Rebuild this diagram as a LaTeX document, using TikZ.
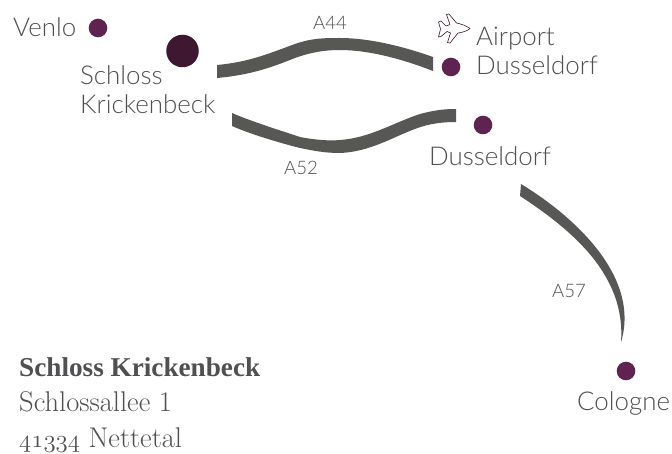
\documentclass[tikz,border=0pt]{standalone}
\usepackage{fontspec}
\setsansfont{Lato Light}[BoldFont={Lato}]
\newfontfamily\titlefont{Liberation Serif}
\newcommand{\oldnums}[1]{{\fontencoding{OML}\fontfamily{lmm}\fontseries{m}\fontshape{it}\selectfont #1}}
\definecolor{txt}{HTML}{505052}
\definecolor{road}{HTML}{575756}
\definecolor{dotc}{HTML}{5E2350}
\definecolor{castle}{HTML}{3E1730}
\tikzset{
  dot/.style={circle,fill=dotc,draw=none,minimum size=18.6pt,inner sep=0pt},
  place/.style={font=\sffamily\fontsize{25.9}{28}\selectfont,text=txt,inner sep=0pt,anchor=base west},
  roadlabel/.style={font=\sffamily\fontsize{18.6}{20}\selectfont,text=txt,inner sep=0pt,anchor=base west},
  roadshape/.style={fill=road,draw=none},
  addr/.style={font=\fontsize{28.5}{32}\selectfont,text=txt,inner sep=0pt,anchor=base west}
}
\begin{document}
\begin{tikzpicture}[x=1pt,y=-1pt]
\useasboundingbox (0,0) rectangle (672,454);
\fill[white] (0,0) rectangle (672,454);
% roads
\fill[roadshape] (217,65) .. controls (250,62) and (270,53) .. (295,44) .. controls (312,38) and (325,38) .. (340,38) .. controls (370,38) and (405,47) .. (433,57) -- (433,71) .. controls (405,60) and (370,50) .. (340,50) .. controls (325,50) and (312,52) .. (295,58) .. controls (270,68) and (250,75) .. (217,78) -- cycle;
\fill[roadshape] (232,113) .. controls (250,121) and (285,132) .. (300,137) .. controls (315,140) and (330,141) .. (340,140) .. controls (370,138) and (395,122) .. (420,114) .. controls (435,110) and (445,109) .. (456,109) -- (456,122) .. controls (445,122) and (430,123) .. (415,129) .. controls (395,136) and (370,152) .. (340,153) .. controls (325,153) and (315,151) .. (300,148) .. controls (280,143) and (250,134) .. (232,126) -- cycle;
\fill[roadshape] (521,184) .. controls (580,220) and (640,280) .. (621,342) .. controls (626,275) and (572,230) .. (520,196) -- cycle;
% dots
\node[dot] (venlo) at (98,28) {};
\node[dot,fill=castle,minimum size=32.5pt] (krick) at (182.5,51) {};
\node[dot] (air) at (451,67) {};
\node[dot] (dus) at (483,125) {};
\node[dot] (col) at (626,371) {};
% plane
\draw[castle,line width=0.6pt,fill=white,line join=round] (470,28.5) .. controls (466,25.5) and (461,24) .. (456.5,23) -- (449,14) -- (446.5,14.5) -- (450,24.5) -- (446,26) -- (441,21) -- (438.5,22) -- (440.5,29) -- (438.5,37) -- (441,36.5) -- (447,31.5) -- (450.5,33) -- (447.5,42.5) -- (450,43) -- (458,33) .. controls (463,32.5) and (468,30.5) .. (470,28.5) -- cycle;
% labels
\node[place] (venlot) at (13,37) {Venlo};
\node[place] (krickt) at (80,85) {Schloss};
\node[place] (krickt2) at (80,114) {Krickenbeck};
\node[place] (airt) at (476,46) {Airport};
\node[place] (airt2) at (476,75) {Dusseldorf};
\node[place] (dust) at (429,166) {Dusseldorf};
\node[place] (colt) at (577,410) {Cologne};
\node[roadlabel] (a44) at (313,30) {A44};
\node[roadlabel] (a52) at (284,175) {A52};
\node[roadlabel] (a57) at (552,298) {A57};
% address
\node[addr,font=\titlefont\bfseries\fontsize{27.2}{30}\selectfont] (n1) at (19,376) {Schloss Krickenbeck};
\node[addr] (n2) at (19,411) {Schlossallee 1};
\node[addr] (n3) at (19,447) {\oldnums{41334} Nettetal};
\end{tikzpicture}
\end{document}
